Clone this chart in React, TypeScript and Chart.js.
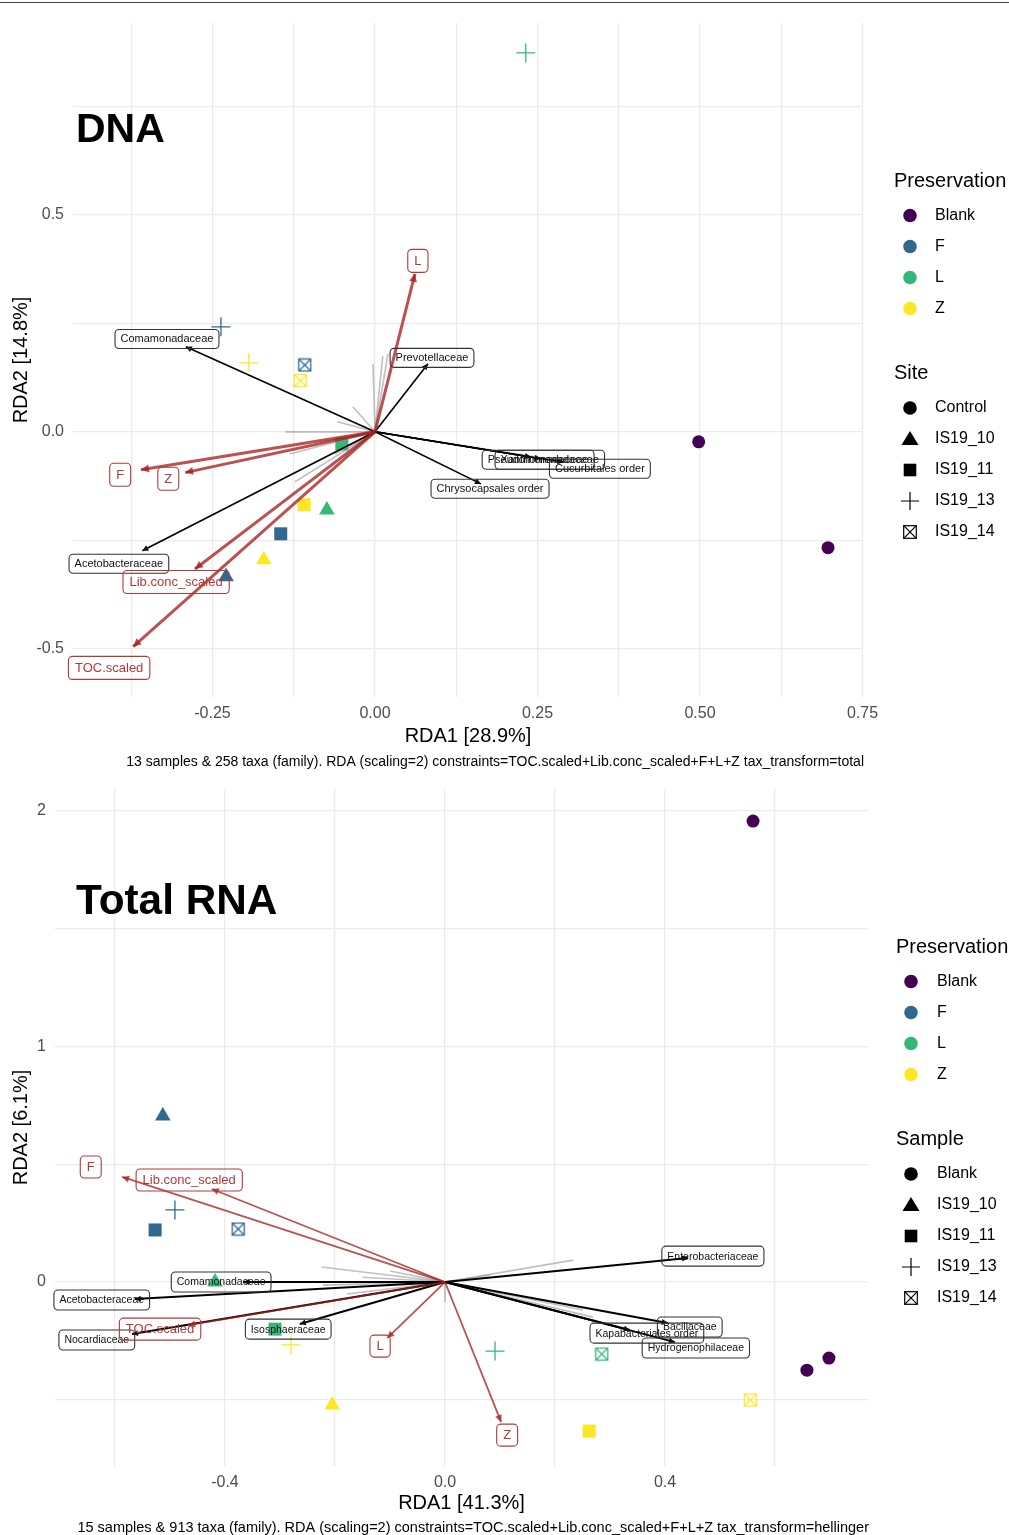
import React, { useEffect, useRef } from 'react';
import { Chart, registerables } from 'chart.js';
Chart.register(...registerables);

const FONT = '"Liberation Sans", Arial, Helvetica, sans-serif';

// ---------- shared levels ----------
const presLevels = ['Blank', 'F', 'L', 'Z'];
const presColors = ['#440154', '#31688E', '#35B779', '#FDE725'];
const siteShapes = ['circle', 'triangle', 'square', 'plus', 'boxcross'];
const dnaSiteLevels = ['Control', 'IS19_10', 'IS19_11', 'IS19_13', 'IS19_14'];
const rnaSampleLevels = ['Blank', 'IS19_10', 'IS19_11', 'IS19_13', 'IS19_14'];

// ---------- DNA panel data ----------
const dnaSampleX = [0.232, -0.237, -0.194, -0.108, -0.115, -0.051, -0.109, -0.074, -0.145, -0.171, -0.229, 0.498, 0.697];
const dnaSampleY = [0.873, 0.242, 0.159, 0.154, 0.118, -0.028, -0.168, -0.18, -0.235, -0.295, -0.334, -0.023, -0.267];
const dnaSamplePres = ['L', 'F', 'Z', 'F', 'Z', 'L', 'Z', 'L', 'F', 'Z', 'F', 'Blank', 'Blank'];
const dnaSampleSite = ['IS19_13', 'IS19_13', 'IS19_13', 'IS19_14', 'IS19_14', 'IS19_11', 'IS19_11', 'IS19_10', 'IS19_11', 'IS19_10', 'IS19_10', 'Control', 'Control'];

const dnaConstraintNames = ['L', 'F', 'Z', 'Lib.conc_scaled', 'TOC.scaled'];
const dnaConstraintX = [0.0615, -0.36, -0.292, -0.277, -0.372];
const dnaConstraintY = [0.364, -0.0876, -0.094, -0.316, -0.495];
const dnaConstraintLabelX = [0.066, -0.392, -0.318, -0.306, -0.409];
const dnaConstraintLabelY = [0.394, -0.099, -0.108, -0.346, -0.544];

const dnaTaxaNames = ['Comamonadaceae', 'Prevotellaceae', 'Pseudomonadaceae', 'Xanthomonadaceae', 'Cucurbitales order', 'Chrysocapsales order', 'Acetobacteraceae'];
const dnaTaxaX = [-0.291, 0.0815, 0.24, 0.255, 0.29, 0.163, -0.358];
const dnaTaxaY = [0.196, 0.157, -0.058, -0.062, -0.07, -0.12, -0.274];
const dnaTaxaLabelX = [-0.32, 0.0877, 0.251, 0.269, 0.346, 0.177, -0.394];
const dnaTaxaLabelY = [0.214, 0.1705, -0.0645, -0.0645, -0.085, -0.131, -0.304];

const dnaOtherTaxaX = [-0.138, -0.034, -0.058, -0.003, 0.02, 0.012, -0.123, -0.131, -0.062, -0.054, 0.3];
const dnaOtherTaxaY = [0.0, 0.058, 0.023, 0.157, 0.18, 0.175, -0.115, -0.051, -0.051, -0.018, -0.07];

// ---------- Total RNA panel data ----------
const rnaSampleX = [0.56, -0.513, -0.491, -0.527, -0.376, -0.418, -0.309, -0.28, -0.205, 0.091, 0.285, 0.262, 0.555, 0.658, 0.698];
const rnaSampleY = [1.957, 0.705, 0.306, 0.221, 0.225, 0.0, -0.2, -0.267, -0.522, -0.293, -0.306, -0.633, -0.501, -0.374, -0.323];
const rnaSamplePres = ['Blank', 'F', 'F', 'F', 'F', 'L', 'L', 'Z', 'Z', 'L', 'L', 'Z', 'Z', 'Blank', 'Blank'];
const rnaSampleSite = ['Blank', 'IS19_10', 'IS19_13', 'IS19_11', 'IS19_14', 'IS19_10', 'IS19_11', 'IS19_13', 'IS19_10', 'IS19_13', 'IS19_14', 'IS19_11', 'IS19_14', 'Blank', 'Blank'];

const rnaConstraintNames = ['F', 'Lib.conc_scaled', 'TOC.scaled', 'L', 'Z'];
const rnaConstraintX = [-0.587, -0.424, -0.467, -0.105, 0.102];
const rnaConstraintY = [0.446, 0.395, -0.183, -0.238, -0.594];
const rnaConstraintLabelX = [-0.644, -0.465, -0.518, -0.118, 0.113];
const rnaConstraintLabelY = [0.488, 0.433, -0.2, -0.272, -0.65];

const rnaTaxaNames = ['Enterobacteriaceae', 'Bacillaceae', 'Kapabacteriales order', 'Hydrogenophilaceae', 'Comamonadaceae', 'Acetobacteraceae', 'Nocardiaceae', 'Isosphaeraceae'];
const rnaTaxaX = [0.442, 0.405, 0.336, 0.418, -0.367, -0.564, -0.569, -0.264];
const rnaTaxaY = [0.102, -0.174, -0.204, -0.255, 0.0, -0.072, -0.221, -0.178];
const rnaTaxaLabelX = [0.487, 0.445, 0.367, 0.456, -0.407, -0.624, -0.633, -0.285];
const rnaTaxaLabelY = [0.11, -0.191, -0.217, -0.28, 0.0, -0.076, -0.246, -0.2];

const rnaOtherTaxaX = [-0.224, -0.1, 0.233, -0.222, -0.178, 0.082, 0.0, 0.251, 0.269, -0.15];
const rnaOtherTaxaY = [0.064, 0.047, 0.093, -0.013, -0.051, 0.03, -0.085, -0.119, -0.149, 0.02];

// ---------- helpers ----------
function makeBoxCross(color: string, size = 15): HTMLCanvasElement {
  const c = document.createElement('canvas');
  c.width = size;
  c.height = size;
  const g = c.getContext('2d')!;
  g.strokeStyle = color;
  g.lineWidth = 1.3;
  const a = 1.5, b = size - 1.5;
  g.strokeRect(a, a, b - a, b - a);
  g.beginPath();
  g.moveTo(a, a); g.lineTo(b, b);
  g.moveTo(b, a); g.lineTo(a, b);
  g.stroke();
  return c;
}

function roundRect(ctx: CanvasRenderingContext2D, x: number, y: number, w: number, h: number, r: number) {
  ctx.beginPath();
  ctx.moveTo(x + r, y);
  ctx.lineTo(x + w - r, y);
  ctx.arcTo(x + w, y, x + w, y + r, r);
  ctx.lineTo(x + w, y + h - r);
  ctx.arcTo(x + w, y + h, x + w - r, y + h, r);
  ctx.lineTo(x + r, y + h);
  ctx.arcTo(x, y + h, x, y + h - r, r);
  ctx.lineTo(x, y + r);
  ctx.arcTo(x, y, x + r, y, r);
  ctx.closePath();
}

function drawKey(ctx: CanvasRenderingContext2D, shape: string, x: number, y: number, color: string) {
  ctx.save();
  ctx.fillStyle = color;
  ctx.strokeStyle = color;
  if (shape === 'circle') {
    ctx.beginPath(); ctx.arc(x, y, 6.8, 0, Math.PI * 2); ctx.fill();
  } else if (shape === 'triangle') {
    ctx.beginPath(); ctx.moveTo(x, y - 8); ctx.lineTo(x + 8.5, y + 6); ctx.lineTo(x - 8.5, y + 6); ctx.closePath(); ctx.fill();
  } else if (shape === 'square') {
    ctx.fillRect(x - 6.3, y - 6.3, 12.6, 12.6);
  } else if (shape === 'plus') {
    ctx.lineWidth = 1.2;
    ctx.beginPath(); ctx.moveTo(x - 9, y); ctx.lineTo(x + 9, y); ctx.moveTo(x, y - 9); ctx.lineTo(x, y + 9); ctx.stroke();
  } else {
    ctx.lineWidth = 1.2;
    const s = 6.3;
    ctx.strokeRect(x - s, y - s, 2 * s, 2 * s);
    ctx.beginPath(); ctx.moveTo(x - s, y - s); ctx.lineTo(x + s, y + s); ctx.moveTo(x + s, y - s); ctx.lineTo(x - s, y + s); ctx.stroke();
  }
  ctx.restore();
}

type Panel = {
  top: number; height: number;
  title: string; titleX: number; titleBaseline: number; titleSize: number;
  caption: string; captionBaseline: number; captionSize: number;
  xTitle: string; yTitle: string;
  xMin: number; xMax: number; xStep: number; xLabelEvery: number; xDec: number;
  yMin: number; yMax: number; yStep: number; yLabelEvery: number; yDec: number;
  yAxisWidth: number; xAxisHeight: number; padTop: number; padBottom: number; padRight: number;
  sx: number[]; sy: number[]; spres: string[]; ssite: string[]; siteLevels: string[]; siteTitle: string;
  cNames: string[]; cX: number[]; cY: number[]; cLX: number[]; cLY: number[];
  tNames: string[]; tX: number[]; tY: number[]; tLX: number[]; tLY: number[];
  oX: number[]; oY: number[];
  redWidth: number; blackWidth: number; redHead: number; blackHead: number;
  cFont: number; cPad: number; cH: number; tFont: number; tPad: number; tH: number;
  legendX: number; legendKeyX: number; legendTextX: number; legendTitleY: number;
};

const RED_LINE = 'rgba(168,32,32,0.78)';
const RED_TEXT = '#B03A3A';

function buildConfig(p: Panel): any {
  const colors = p.spres.map((v) => presColors[presLevels.indexOf(v)]);
  const shapes = p.ssite.map((v) => siteShapes[p.siteLevels.indexOf(v)]);
  const styleOf: Record<string, any> = { circle: 'circle', triangle: 'triangle', square: 'rect', plus: 'cross' };
  const radiusOf: Record<string, number> = { circle: 6.5, triangle: 9, square: 9.2, plus: 9.5, boxcross: 7 };
  const pointStyle = shapes.map((s, i) => (s === 'boxcross' ? makeBoxCross(colors[i]) : styleOf[s]));

  const datasets: any[] = [];
  p.cNames.forEach((n, i) => {
    datasets.push({
      label: n, data: [{ x: 0, y: 0 }, { x: p.cX[i], y: p.cY[i] }], showLine: true,
      borderColor: RED_LINE, borderWidth: p.redWidth, pointRadius: 0, order: 1,
      arrowHead: p.redHead, arrowColor: RED_LINE,
    });
  });
  p.tNames.forEach((n, i) => {
    datasets.push({
      label: n, data: [{ x: 0, y: 0 }, { x: p.tX[i], y: p.tY[i] }], showLine: true,
      borderColor: '#000000', borderWidth: p.blackWidth, pointRadius: 0, order: 3,
      arrowHead: p.blackHead, arrowColor: '#111111',
    });
  });
  p.oX.forEach((x, i) => {
    datasets.push({
      label: 'other' + i, data: [{ x: 0, y: 0 }, { x, y: p.oY[i] }], showLine: true,
      borderColor: 'rgba(140,140,140,0.55)', borderWidth: 1.6, pointRadius: 0, order: 5,
    });
  });
  datasets.push({
    label: 'samples',
    data: p.sx.map((x, i) => ({ x, y: p.sy[i] })),
    showLine: false,
    pointStyle,
    pointRadius: shapes.map((s) => radiusOf[s]),
    pointBackgroundColor: colors,
    pointBorderColor: colors,
    pointBorderWidth: shapes.map((s) => (s === 'plus' ? 1.3 : 0)),
    order: 10,
  });

  const isMult = (v: number, m: number) => Math.abs(v / m - Math.round(v / m)) < 1e-6;

  const decor = {
    id: 'decor',
    afterDatasetsDraw(chart: any) {
      const ctx: CanvasRenderingContext2D = chart.ctx;
      const xs = chart.scales.x, ys = chart.scales.y;
      // arrow heads
      chart.data.datasets.forEach((ds: any, i: number) => {
        if (!ds.arrowHead) return;
        const meta = chart.getDatasetMeta(i);
        const a = meta.data[0], b = meta.data[1];
        const ang = Math.atan2(b.y - a.y, b.x - a.x);
        const L = ds.arrowHead, W = ds.arrowHead * 0.5;
        ctx.save();
        ctx.fillStyle = ds.arrowColor;
        ctx.beginPath();
        ctx.moveTo(b.x, b.y);
        ctx.lineTo(b.x - L * Math.cos(ang) + W * Math.sin(ang), b.y - L * Math.sin(ang) - W * Math.cos(ang));
        ctx.lineTo(b.x - L * Math.cos(ang) - W * Math.sin(ang), b.y - L * Math.sin(ang) + W * Math.cos(ang));
        ctx.closePath();
        ctx.fill();
        ctx.restore();
      });
      // labels
      const drawLabel = (text: string, vx: number, vy: number, size: number, pad: number, h: number, color: string, border: string) => {
        const cx = xs.getPixelForValue(vx), cy = ys.getPixelForValue(vy);
        ctx.save();
        ctx.font = `${size}px ${FONT}`;
        const w = ctx.measureText(text).width + 2 * pad;
        roundRect(ctx, cx - w / 2, cy - h / 2, w, h, 4);
        ctx.lineWidth = 1.1;
        ctx.strokeStyle = border;
        ctx.stroke();
        ctx.fillStyle = color;
        ctx.textAlign = 'center';
        ctx.textBaseline = 'middle';
        ctx.fillText(text, cx, cy + 0.5);
        ctx.restore();
      };
      p.tNames.forEach((n, i) => drawLabel(n, p.tLX[i], p.tLY[i], p.tFont, p.tPad, p.tH, '#111111', '#333333'));
      p.cNames.forEach((n, i) => drawLabel(n, p.cLX[i], p.cLY[i], p.cFont, p.cPad, p.cH, RED_TEXT, RED_TEXT));
    },
    afterDraw(chart: any) {
      const ctx: CanvasRenderingContext2D = chart.ctx;
      const area = chart.chartArea;
      ctx.save();
      // panel title
      ctx.fillStyle = '#000';
      ctx.font = `bold ${p.titleSize}px ${FONT}`;
      ctx.textAlign = 'left';
      ctx.textBaseline = 'alphabetic';
      ctx.fillText(p.title, p.titleX, p.titleBaseline);
      // caption
      ctx.font = `${p.captionSize}px ${FONT}`;
      ctx.textAlign = 'right';
      ctx.fillText(p.caption, area.right + 1, p.captionBaseline);
      // legend
      ctx.textAlign = 'left';
      ctx.textBaseline = 'middle';
      let y = p.legendTitleY;
      ctx.font = `20px ${FONT}`;
      ctx.fillText('Preservation', p.legendX, y);
      y += 34.5;
      presLevels.forEach((lv, i) => {
        drawKey(ctx, 'circle', p.legendKeyX, y, presColors[i]);
        ctx.fillStyle = '#000';
        ctx.font = `16px ${FONT}`;
        ctx.fillText(lv, p.legendTextX, y);
        y += 31;
      });
      y += 34;
      ctx.font = `20px ${FONT}`;
      ctx.fillText(p.siteTitle, p.legendX, y);
      y += 34.5;
      p.siteLevels.forEach((lv, i) => {
        drawKey(ctx, siteShapes[i], p.legendKeyX, y, '#000');
        ctx.fillStyle = '#000';
        ctx.font = `16px ${FONT}`;
        ctx.fillText(lv, p.legendTextX, y);
        y += 31;
      });
      ctx.restore();
    },
  };

  return {
    type: 'scatter',
    data: { datasets },
    options: {
      animation: false,
      responsive: false,
      maintainAspectRatio: false,
      events: [],
      layout: { padding: { left: 0, right: p.padRight, top: p.padTop, bottom: p.padBottom } },
      plugins: { legend: { display: false }, tooltip: { enabled: false }, title: { display: false } },
      scales: {
        x: {
          type: 'linear',
          min: p.xMin, max: p.xMax,
          afterFit: (s: any) => { s.height = p.xAxisHeight; },
          border: { display: false },
          grid: { color: '#ebebeb', lineWidth: 1.3, drawTicks: false },
          ticks: {
            stepSize: p.xStep, autoSkip: false, includeBounds: false, maxRotation: 0, padding: 7,
            color: '#4d4d4d', font: { family: FONT, size: 16 },
            callback: (v: any) => (isMult(Number(v), p.xLabelEvery) ? Number(v).toFixed(p.xDec) : ''),
          },
          title: { display: true, text: p.xTitle, color: '#000', font: { family: FONT, size: 20 }, padding: { top: 0, bottom: 0 } },
        },
        y: {
          type: 'linear',
          min: p.yMin, max: p.yMax,
          afterFit: (s: any) => { s.width = p.yAxisWidth; },
          border: { display: false },
          grid: { color: '#ebebeb', lineWidth: 1.3, drawTicks: false },
          ticks: {
            stepSize: p.yStep, autoSkip: false, includeBounds: false, padding: 9,
            color: '#4d4d4d', font: { family: FONT, size: 16 },
            callback: (v: any) => (isMult(Number(v), p.yLabelEvery) ? Number(v).toFixed(p.yDec) : ''),
          },
          title: { display: true, text: p.yTitle, color: '#000', font: { family: FONT, size: 20 }, padding: { top: 9, bottom: 0 } },
        },
      },
    },
    plugins: [decor],
  };
}

const dnaPanel: Panel = {
  top: 0, height: 780,
  title: 'DNA', titleX: 76, titleBaseline: 142, titleSize: 41,
  caption: '13 samples & 258 taxa (family). RDA (scaling=2) constraints=TOC.scaled+Lib.conc_scaled+F+L+Z tax_transform=total',
  captionBaseline: 766, captionSize: 14,
  xTitle: 'RDA1 [28.9%]', yTitle: 'RDA2 [14.8%]',
  xMin: -0.4646, xMax: 0.7508, xStep: 0.125, xLabelEvery: 0.25, xDec: 2,
  yMin: -0.611, yMax: 0.942, yStep: 0.25, yLabelEvery: 0.5, yDec: 1,
  yAxisWidth: 73, xAxisHeight: 51, padTop: 23, padBottom: 32, padRight: 146,
  sx: dnaSampleX, sy: dnaSampleY, spres: dnaSamplePres, ssite: dnaSampleSite, siteLevels: dnaSiteLevels, siteTitle: 'Site',
  cNames: dnaConstraintNames, cX: dnaConstraintX, cY: dnaConstraintY, cLX: dnaConstraintLabelX, cLY: dnaConstraintLabelY,
  tNames: dnaTaxaNames, tX: dnaTaxaX, tY: dnaTaxaY, tLX: dnaTaxaLabelX, tLY: dnaTaxaLabelY,
  oX: dnaOtherTaxaX, oY: dnaOtherTaxaY,
  redWidth: 3, blackWidth: 1.6, redHead: 8, blackHead: 6,
  cFont: 13, cPad: 6.5, cH: 23, tFont: 11, tPad: 5.5, tH: 19,
  legendX: 894, legendKeyX: 910, legendTextX: 935, legendTitleY: 181,
};

const rnaPanel: Panel = {
  top: 760, height: 775,
  title: 'Total RNA', titleX: 76, titleBaseline: 914 - 760, titleSize: 42.3,
  caption: '15 samples & 913 taxa (family). RDA (scaling=2) constraints=TOC.scaled+Lib.conc_scaled+F+L+Z tax_transform=hellinger',
  captionBaseline: 1532 - 760, captionSize: 14.5,
  xTitle: 'RDA1 [41.3%]', yTitle: 'RDA2 [6.1%]',
  xMin: -0.709, xMax: 0.769, xStep: 0.2, xLabelEvery: 0.4, xDec: 1,
  yMin: -0.781, yMax: 2.093, yStep: 0.5, yLabelEvery: 1, yDec: 0,
  yAxisWidth: 55, xAxisHeight: 49, padTop: 29, padBottom: 20, padRight: 141,
  sx: rnaSampleX, sy: rnaSampleY, spres: rnaSamplePres, ssite: rnaSampleSite, siteLevels: rnaSampleLevels, siteTitle: 'Sample',
  cNames: rnaConstraintNames, cX: rnaConstraintX, cY: rnaConstraintY, cLX: rnaConstraintLabelX, cLY: rnaConstraintLabelY,
  tNames: rnaTaxaNames, tX: rnaTaxaX, tY: rnaTaxaY, tLX: rnaTaxaLabelX, tLY: rnaTaxaLabelY,
  oX: rnaOtherTaxaX, oY: rnaOtherTaxaY,
  redWidth: 1.8, blackWidth: 2, redHead: 7, blackHead: 6,
  cFont: 13, cPad: 6.5, cH: 22, tFont: 10.5, tPad: 5.5, tH: 20,
  legendX: 896, legendKeyX: 911, legendTextX: 937, legendTitleY: 947 - 760,
};

function PanelChart({ panel }: { panel: Panel }) {
  const ref = useRef<HTMLCanvasElement>(null);
  useEffect(() => {
    const chart = new Chart(ref.current!, buildConfig(panel));
    return () => chart.destroy();
  }, [panel]);
  return (
    <canvas
      ref={ref}
      width={1009}
      height={panel.height}
      style={{ position: 'absolute', left: 0, top: panel.top, width: 1009, height: panel.height, display: 'block' }}
    />
  );
}

export default function App() {
  return (
    <div style={{ position: 'absolute', left: 0, top: 0, width: 1009, height: 1535, background: '#fff', overflow: 'hidden' }}>
      <div style={{ position: 'absolute', left: 0, top: 2, width: 1009, height: 0, borderTop: '1.2px solid #444' }} />
      <PanelChart panel={dnaPanel} />
      <PanelChart panel={rnaPanel} />
    </div>
  );
}
